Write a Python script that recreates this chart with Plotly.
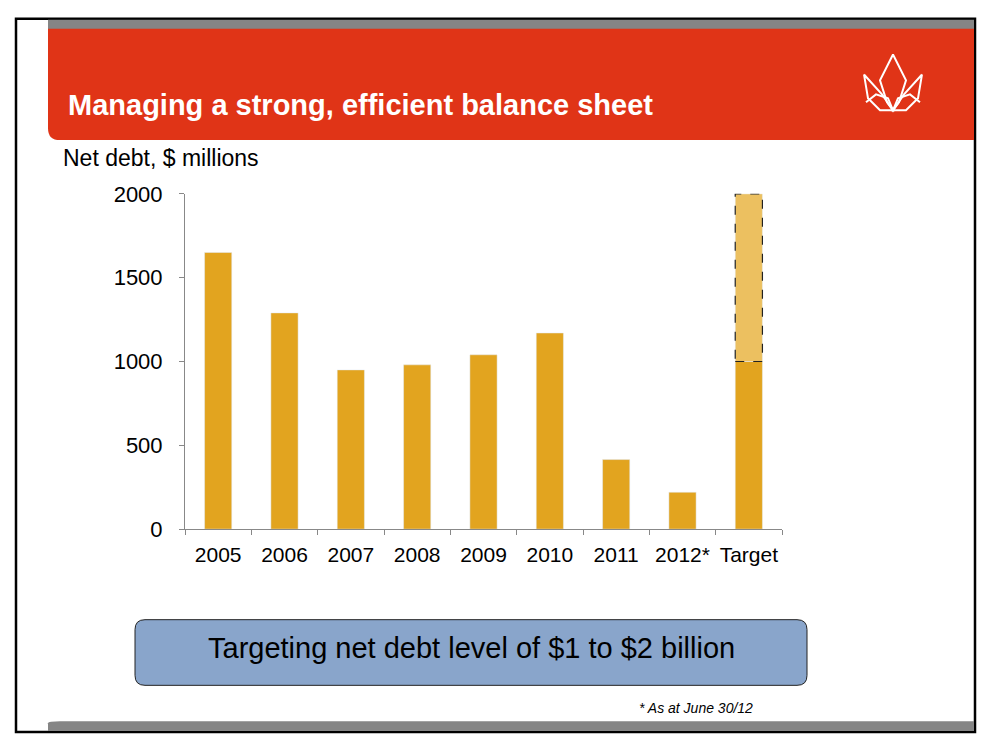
import plotly.graph_objects as go

categories = ["2005", "2006", "2007", "2008", "2009", "2010", "2011", "2012*", "Target"]
net_debt = [1650, 1290, 950, 980, 1040, 1170, 415, 220, 1000]
target_low = 1000
target_high = 2000
y_ticks = [0, 500, 1000, 1500, 2000]

W, H = 970, 737
OFF = 8
def px(x): return (x - OFF) / W
def py(y):
    y = (y - 9.5) / 0.971
    return 1 - (y - OFF) / H

BAR = "#e2a41f"
fig = go.Figure()
fig.add_bar(x=categories, y=net_debt, marker_color=BAR, width=0.41, showlegend=False)
fig.add_bar(x=[categories[-1]], y=[target_high - target_low], base=[target_low],
            marker_color="#ecc060", width=0.41, showlegend=False)

shapes = []
ti = len(categories) - 1
shapes.append(dict(type="rect", xref="x", yref="y", x0=ti - 0.205, x1=ti + 0.205,
                   y0=target_low, y1=target_high, line=dict(color="#222", width=1.2, dash="dash")))
shapes.append(dict(type="rect", xref="paper", yref="paper", x0=px(16), x1=px(975), y0=py(733), y1=py(16),
                   line=dict(color="black", width=2.5), layer="below"))
shapes.append(dict(type="rect", xref="paper", yref="paper", x0=px(48), x1=px(974), y0=py(27), y1=py(17),
                   fillcolor="#858585", line_width=0, layer="below"))
r = 12
shapes.append(dict(type="path", xref="paper", yref="paper",
    path=f"M {px(48)},{py(26)} L {px(974)},{py(26)} L {px(974)},{py(138)} L {px(48+r)},{py(138)} "
         f"Q {px(48)},{py(138)} {px(48)},{py(138-r)} Z",
    fillcolor="#e03417", line_width=0, layer="below"))
shapes.append(dict(type="path", xref="paper", yref="paper",
    path=f"M {px(48)},{py(732)} L {px(48)},{py(732-r+4)} Q {px(48)},{py(722)} {px(48+r)},{py(722)} "
         f"L {px(974)},{py(722)} L {px(974)},{py(732)} Z",
    fillcolor="#858585", line_width=0, layer="below"))
bx0, bx1, by0, by1, rr = 135, 807, 620, 686, 10
shapes.append(dict(type="path", xref="paper", yref="paper",
    path=(f"M {px(bx0+rr)},{py(by0)} L {px(bx1-rr)},{py(by0)} Q {px(bx1)},{py(by0)} {px(bx1)},{py(by0+rr)} "
          f"L {px(bx1)},{py(by1-rr)} Q {px(bx1)},{py(by1)} {px(bx1-rr)},{py(by1)} "
          f"L {px(bx0+rr)},{py(by1)} Q {px(bx0)},{py(by1)} {px(bx0)},{py(by1-rr)} "
          f"L {px(bx0)},{py(by0+rr)} Q {px(bx0)},{py(by0)} {px(bx0+rr)},{py(by0)} Z"),
    fillcolor="#89a5cb", line=dict(color="#222", width=1), layer="below"))
def P(pts):
    return "M " + " L ".join(f"{px(a)},{py(b)}" for a, b in pts)
wl = dict(color="white", width=2)
logo_paths = [
    [(893, 52), (880, 78), (887, 100), (893, 108), (899, 100), (906, 78), (893, 52)],
    [(864, 72), (868, 96), (880, 108), (893, 108), (882, 92), (864, 72)],
    [(922, 72), (918, 96), (906, 108), (893, 108), (904, 92), (922, 72)],
    [(866, 100), (876, 92), (888, 96), (893, 108), (898, 96), (910, 92), (920, 100)],
]
for p in logo_paths:
    shapes.append(dict(type="path", xref="paper", yref="paper", path=P(p), line=wl))

def ann(x, y, text, size, color="black", xanchor="left"):
    return dict(x=px(x), y=py(y), xref="paper", yref="paper", text=text, showarrow=False,
                xanchor=xanchor, yanchor="middle", font=dict(size=size, color=color))

annotations = [
    ann(66, 103, "<b>Managing a strong, efficient balance sheet</b>", 29, "white"),
    ann(61, 156, "Net debt, $ millions", 23),
    ann(471, 648, "Targeting net debt level of $1 to $2 billion", 29, xanchor="center"),
    ann(755, 709, "<i>* As at June 30/12</i>", 14, xanchor="right"),
]

fig.update_layout(
    width=W, height=H, margin=dict(l=0, r=0, t=0, b=0),
    paper_bgcolor="white", plot_bgcolor="white", barmode="overlay",
    font=dict(family="Liberation Sans", color="black"),
    shapes=shapes, annotations=annotations,
    xaxis=dict(domain=[px(185), px(782)], range=[-0.5, 8.5], showline=True, linecolor="#888",
               ticks="outside", tickcolor="#888", ticklen=5, tickson="boundaries",
               tickfont=dict(size=21), tickangle=0, showgrid=False, ticklabelstandoff=7),
    yaxis=dict(domain=[py(529), py(192)], range=[0, 2000], tickvals=y_ticks, showline=True,
               linecolor="#888", ticks="outside", tickcolor="#888", ticklen=5,
               tickfont=dict(size=22), showgrid=False, zeroline=False, ticklabelstandoff=12),
)
fig.write_html("out.html")
